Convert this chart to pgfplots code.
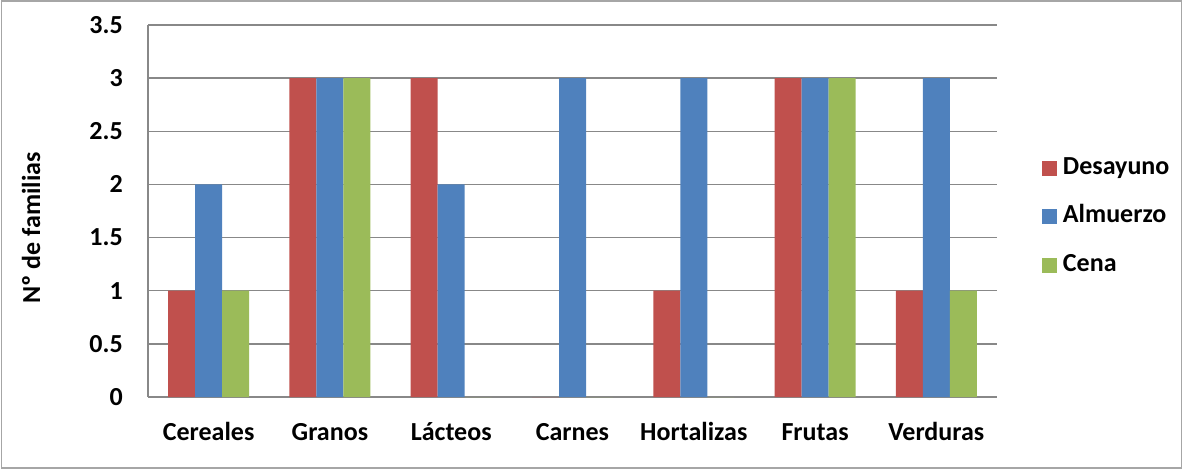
\documentclass[border=0pt]{standalone}
\usepackage{pgfplots}
\pgfplotsset{compat=1.18}
\usepackage{fontspec}
\setmainfont{Carlito}

\definecolor{cDes}{HTML}{C0504D}
\definecolor{cAlm}{HTML}{4F81BD}
\definecolor{cCen}{HTML}{9BBB59}
\definecolor{gridgray}{HTML}{888888}
\definecolor{framegray}{HTML}{A6A6A6}

% Meals per food group: number of families
\pgfplotstableread{
x grupo    des alm cen
0 Cereales 1   2   1
1 Granos   3   3   3
2 Lacteos  3   2   0
3 Carnes   0   3   0
4 Hortalizas 1 3   0
5 Frutas   3   3   3
6 Verduras 1   3   1
}\datatable

\begin{document}
\begin{tikzpicture}
\useasboundingbox (0pt,0pt) rectangle (887.25pt,351.75pt);
\draw[framegray, line width=1.1pt] (1.2pt,0.9pt) rectangle (886.2pt,351pt);
\begin{axis}[
  at={(111pt,54pt)}, anchor=south west,
  scale only axis,
  width=636.75pt, height=279pt,
  ybar=0pt, bar width=20.25pt,
  xmin=-0.5, xmax=6.5,
  ymin=0, ymax=3.5,
  ytick={0,0.5,...,3.5},
  xtick=data,
  xticklabels={Cereales,Granos,Lácteos,Carnes,Hortalizas,Frutas,Verduras},
  axis x line*=bottom, axis y line*=left,
  axis line style={gridgray, line width=1pt, -},
  ymajorgrids, grid style={gridgray, line width=1pt},
  major tick length=0pt,
  /pgf/number format/assume math mode=true,
  font=\fontsize{19.5}{23}\selectfont\bfseries,
  ticklabel style={font=\fontsize{19.5}{23}\selectfont\bfseries},
  yticklabel style={inner sep=0pt, xshift=-18.75pt},
  xticklabel style={anchor=base, inner sep=0pt, yshift=-32.25pt},
  ylabel={Nº de familias},
  ylabel style={at={(axis description cs:-0.1378,0.454)}, anchor=center, rotate=0, inner sep=0pt},
  legend image code/.code={\fill[#1] (0pt,-5.6pt) rectangle (11.25pt,5.6pt);},
  legend style={at={(axis description cs:1.053,0.484)}, anchor=west,
    draw=none, fill=none, inner sep=0pt, outer sep=0pt,
    row sep=18.4pt,
    nodes={inner sep=0pt, text height=13.5pt, text depth=4.5pt, anchor=west},
    /tikz/every odd column/.append style={column sep=4.5pt},
    font=\fontsize{19.5}{23}\selectfont\bfseries},
  legend cell align=left,
]
\addplot[fill=cDes, draw=none] table[x=x, y=des] {\datatable};
\addplot[fill=cAlm, draw=none] table[x=x, y=alm] {\datatable};
\addplot[fill=cCen, draw=none] table[x=x, y=cen] {\datatable};
\legend{Desayuno,Almuerzo,Cena}
\end{axis}
\end{tikzpicture}
\end{document}
